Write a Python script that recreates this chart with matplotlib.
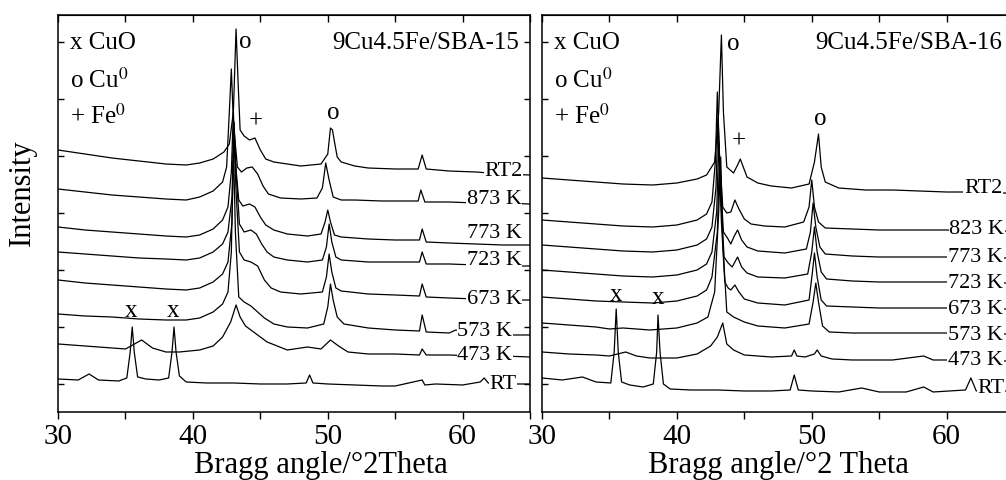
import numpy as np
import matplotlib
matplotlib.use("Agg")
from matplotlib import pyplot as plt
from matplotlib.ticker import MultipleLocator

# ---- data: 9Cu4.5Fe/SBA-15 (left panel), intensity in a.u. ----
theta_15_rt2 = [30, 32, 34, 36, 38, 39.5, 40.5, 41.5, 42.3, 42.7, 43.0, 43.2, 43.35, 43.5, 43.8, 44.2, 44.6, 45.0, 45.4, 46, 47, 48, 49.5, 50.0, 50.2, 50.35, 50.5, 50.7, 51, 52, 53, 55, 56.7, 57.0, 57.3, 59, 61, 63, 65]
int_15_rt2 = [262, 258, 254, 251, 248, 247, 249, 253, 260, 268, 300, 383, 330, 282, 276, 272, 274, 262, 253, 250, 248, 246, 248, 258, 284, 282, 270, 255, 250, 246, 244, 243, 243, 257, 243, 241, 240, 238, 237]

theta_15_873 = [30, 32, 34, 36, 38, 39.5, 40.5, 41.5, 42.2, 42.5, 42.7, 42.85, 43.0, 43.3, 43.6, 44.0, 44.4, 44.8, 45.2, 45.6, 46.5, 48, 49.2, 49.6, 49.85, 50.1, 50.4, 51, 52, 54, 56.7, 56.9, 57.2, 59, 61, 63, 65]
int_15_873 = [223, 220, 217, 215, 213, 212, 215, 221, 230, 245, 300, 343, 290, 245, 240, 244, 245, 238, 226, 218, 214, 213, 214, 224, 249, 232, 215, 212, 212, 211, 211, 222, 210, 210, 209, 209, 208]

theta_15_773 = [30, 32, 34, 36, 38, 39.5, 40.5, 41.5, 42.2, 42.6, 42.85, 43.0, 43.15, 43.4, 43.7, 44.2, 44.6, 45.0, 45.4, 46, 47, 48.5, 49.5, 49.8, 50.0, 50.2, 50.5, 51, 53, 55, 56.8, 57.0, 57.3, 59, 61, 63, 65]
int_15_773 = [185, 182, 180, 178, 176, 175, 177, 183, 192, 205, 240, 300, 250, 212, 206, 208, 205, 195, 187, 182, 178, 176, 178, 190, 202, 190, 177, 175, 173, 172, 172, 183, 170, 169, 168, 167, 167]

theta_15_723 = [30, 32, 34, 36, 38, 39.5, 40.5, 41.5, 42.2, 42.6, 42.9, 43.05, 43.2, 43.45, 43.8, 44.3, 44.7, 45.1, 45.5, 46, 47, 48.5, 49.6, 49.9, 50.1, 50.3, 50.6, 51, 53, 55, 56.8, 57.0, 57.3, 59, 61, 63, 65]
int_15_723 = [160, 158, 156, 154, 153, 152, 154, 160, 168, 180, 215, 290, 240, 188, 180, 182, 178, 168, 160, 155, 152, 150, 152, 165, 188, 170, 155, 152, 150, 150, 150, 160, 148, 148, 147, 146, 146]

theta_15_673 = [30, 32, 34, 36, 38, 39.5, 40.5, 41.5, 42.2, 42.6, 42.9, 43.05, 43.2, 43.45, 43.8, 44.3, 44.8, 45.3, 45.8, 46.5, 48, 49.6, 49.9, 50.1, 50.3, 50.6, 51, 53, 55, 56.8, 57.0, 57.3, 59, 61, 63, 65]
int_15_673 = [132, 129, 127, 125, 123, 122, 124, 130, 138, 150, 190, 280, 220, 160, 152, 150, 146, 132, 124, 120, 118, 120, 135, 158, 140, 124, 121, 118, 117, 116, 128, 115, 114, 113, 112, 112]

theta_15_573 = [30, 32, 34, 36, 38, 39.5, 40.5, 41.5, 42.2, 42.6, 42.85, 43.0, 43.15, 43.4, 43.8, 44.3, 44.8, 45.3, 46, 47, 48.5, 49.7, 50.0, 50.2, 50.4, 50.7, 51.2, 53, 55, 56.8, 57.0, 57.3, 59, 59.5, 61, 63, 65]
int_15_573 = [98, 96, 95, 93, 92, 92, 94, 100, 108, 120, 160, 270, 180, 115, 110, 106, 100, 94, 88, 85, 84, 88, 105, 128, 112, 95, 88, 84, 82, 81, 97, 80, 79, 82, 78, 77, 77]

theta_15_473 = [30, 32, 34, 35, 36.2, 37, 38, 39, 40.5, 41.5, 42.2, 42.8, 43.2, 43.5, 43.9, 44.5, 45.5, 47, 48.5, 49.5, 50.2, 50.8, 51.5, 53, 55, 56.8, 57.0, 57.3, 59, 61, 63, 65]
int_15_473 = [68, 66, 64, 63, 72, 64, 60, 60, 62, 66, 75, 90, 107, 95, 86, 80, 70, 62, 65, 63, 72, 66, 60, 58, 58, 57, 63, 57, 57, 56, 56, 55]

theta_15_rt = [30, 31.5, 32.3, 33, 34.5, 35.1, 35.35, 35.5, 35.65, 35.9, 36.5, 37.5, 38.2, 38.45, 38.6, 38.75, 39.0, 39.5, 41, 43, 45, 47, 48.4, 48.65, 48.9, 50, 52, 54, 55, 57.0, 57.2, 58, 60, 61.3, 61.6, 61.9, 62.5, 63.5, 65]
int_15_rt = [33, 32, 38, 32, 31, 34, 60, 85, 60, 35, 33, 32, 34, 60, 85, 60, 36, 30, 29, 29, 28, 28, 29, 37, 29, 28, 27, 26, 26, 32, 27, 28, 27, 30, 34, 29, 27, 28, 28]

# ---- data: 9Cu4.5Fe/SBA-16 (right panel) ----
theta_16_rt2 = [30, 32, 34, 36, 38.2, 40, 41.5, 42.2, 42.8, 43.1, 43.3, 43.45, 43.7, 44.2, 44.5, 44.7, 44.95, 45.2, 46, 47, 48.5, 49.8, 50.2, 50.5, 50.7, 51, 52, 54, 56, 58, 60, 61.3, 63, 65]
int_16_rt2 = [234, 232, 230, 228, 227, 229, 233, 237, 250, 300, 377, 300, 245, 239, 247, 253, 244, 235, 229, 226, 224, 228, 250, 278, 245, 230, 224, 222, 222, 221, 220, 220, 219, 219]

theta_16_823 = [30, 32, 34, 36, 38.2, 40, 41.5, 42.2, 42.6, 42.85, 43.0, 43.15, 43.4, 43.7, 44.0, 44.3, 44.6, 45.0, 45.5, 46.5, 48, 49.4, 49.8, 50.0, 50.2, 50.5, 51, 53, 55, 58, 60, 62, 65]
int_16_823 = [192, 190, 188, 186, 185, 187, 192, 198, 210, 250, 320, 260, 205, 199, 200, 212, 203, 193, 188, 186, 185, 190, 205, 232, 205, 190, 184, 183, 182, 182, 182, 181, 181]

theta_16_773 = [30, 32, 34, 36, 38.2, 40, 41.5, 42.2, 42.6, 42.9, 43.05, 43.2, 43.45, 43.75, 44.0, 44.25, 44.5, 44.8, 45.2, 46, 48, 49.6, 49.9, 50.1, 50.3, 50.6, 51, 53, 55, 58, 60, 62, 65]
int_16_773 = [167, 165, 163, 161, 160, 162, 167, 173, 185, 225, 294, 240, 180, 174, 168, 176, 182, 172, 165, 161, 159, 163, 180, 209, 185, 165, 158, 156, 155, 155, 155, 154, 154]

theta_16_723 = [30, 32, 34, 36, 38.2, 40, 41.5, 42.2, 42.6, 42.95, 43.1, 43.25, 43.5, 43.8, 44.1, 44.5, 44.8, 45.2, 46, 48, 49.7, 50.0, 50.2, 50.4, 50.7, 51.1, 53, 55, 58, 60, 62, 65]
int_16_723 = [142, 140, 138, 136, 135, 137, 142, 148, 160, 200, 270, 215, 155, 149, 145, 155, 145, 139, 135, 134, 138, 160, 185, 160, 140, 133, 131, 130, 130, 130, 129, 129]

theta_16_673 = [30, 32, 34, 36, 38.2, 40, 41.5, 42.2, 42.6, 43.0, 43.15, 43.3, 43.55, 43.8, 44.0, 44.3, 44.6, 45.0, 46, 48, 49.8, 50.05, 50.2, 50.4, 50.7, 51.1, 53, 55, 58, 60, 62, 65]
int_16_673 = [115, 113, 111, 110, 109, 111, 116, 122, 135, 180, 250, 190, 130, 124, 122, 127, 120, 113, 109, 107, 112, 140, 159, 135, 112, 106, 105, 104, 104, 104, 103, 103]

theta_16_573 = [30, 32, 34, 35, 36, 38, 40, 41.5, 42.3, 42.8, 43.1, 43.25, 43.4, 43.7, 44.2, 45, 46, 48, 49.8, 50.1, 50.3, 50.5, 50.8, 51.3, 53, 55, 58, 60, 62, 65]
int_16_573 = [89, 87, 85, 83, 84, 82, 84, 89, 95, 120, 200, 255, 170, 100, 95, 90, 86, 84, 88, 110, 129, 110, 86, 80, 79, 79, 79, 79, 78, 78]

theta_16_473 = [30, 32, 34, 35, 36.2, 37, 38, 40, 41.5, 42.5, 43.0, 43.4, 43.7, 44.2, 45, 47, 48.5, 48.7, 48.9, 49.5, 50.2, 50.4, 50.7, 51.5, 53, 56, 58.3, 59, 61, 63, 65]
int_16_473 = [60, 58, 57, 56, 60, 56, 54, 54, 58, 66, 75, 89, 68, 62, 57, 55, 56, 62, 56, 55, 58, 62, 56, 53, 52, 52, 56, 52, 52, 51, 51]

theta_16_rt = [30, 31.5, 33, 34, 35.1, 35.35, 35.5, 35.65, 35.9, 36.5, 37.5, 38.25, 38.5, 38.6, 38.75, 39.0, 39.5, 41, 43, 45, 47, 48.4, 48.7, 49.0, 50, 52, 53.7, 55, 57, 58.3, 59, 61.4, 61.8, 62.2, 63, 65]
int_16_rt = [34, 32, 35, 30, 29, 60, 103, 60, 30, 27, 25, 28, 60, 97, 60, 28, 23, 22, 22, 21, 21, 22, 37, 22, 21, 20, 24, 20, 20, 25, 20, 22, 34, 21, 21, 21]

labels_15 = ["RT2", "873 K", "773 K", "723 K", "673 K", "573 K", "473 K", "RT"]
label_pos_15 = [(61.6, 242), (60.3, 214), (60.3, 180), (60.3, 152), (60.3, 113), (59.6, 81), (59.6, 57), (62.0, 28)]
labels_16 = ["RT2", "823 K", "773 K", "723 K", "673 K", "573 K", "473 K", "RT"]
label_pos_16 = [(61.3, 225), (60.2, 184), (60.1, 155), (60.1, 129), (60.1, 103), (60.1, 77), (60.1, 52), (62.3, 24)]

plt.rcParams["font.family"] = ["Liberation Serif", "DejaVu Serif"]
plt.rcParams["mathtext.fontset"] = "stix"

fig = plt.figure(figsize=(10.06, 4.81), dpi=100)
ax1 = fig.add_axes([0.0577, 0.1414, 0.4692, 0.8253])
ax2 = fig.add_axes([0.5388, 0.1414, 0.4692, 0.8253])

traces_15 = [(theta_15_rt2, int_15_rt2), (theta_15_873, int_15_873), (theta_15_773, int_15_773),
             (theta_15_723, int_15_723), (theta_15_673, int_15_673), (theta_15_573, int_15_573),
             (theta_15_473, int_15_473), (theta_15_rt, int_15_rt)]
traces_16 = [(theta_16_rt2, int_16_rt2), (theta_16_823, int_16_823), (theta_16_773, int_16_773),
             (theta_16_723, int_16_723), (theta_16_673, int_16_673), (theta_16_573, int_16_573),
             (theta_16_473, int_16_473), (theta_16_rt, int_16_rt)]

for ax, traces, labels, lpos in [(ax1, traces_15, labels_15, label_pos_15),
                                 (ax2, traces_16, labels_16, label_pos_16)]:
    for (x, y) in traces:
        ax.plot(x, y, color="black", lw=0.9)
    for lab, (lx, ly) in zip(labels, lpos):
        ax.text(lx, ly, lab, fontsize=16, ha="left", va="center", zorder=5,
                bbox=dict(facecolor="white", edgecolor="none", pad=0.5))
    ax.set_xlim(30, 65)
    ax.set_ylim(0, 397)
    ax.xaxis.set_major_locator(MultipleLocator(10))
    ax.xaxis.set_minor_locator(MultipleLocator(5))
    ax.set_yticks(np.arange(28, 397, 57))
    ax.set_yticklabels([])
    ax.tick_params(axis="x", which="both", direction="out", length=5, width=1,
                   labelsize=21, pad=3)
    ax.tick_params(axis="y", which="both", direction="in", length=4, width=1,
                   left=True, right=True)
    for s in ax.spines.values():
        s.set_linewidth(1.1)
    # ticks pointing in along the top edge
    sec = ax.secondary_xaxis("top")
    sec.xaxis.set_major_locator(MultipleLocator(5))
    sec.tick_params(direction="in", length=5, width=1, labeltop=False)
    # phase legend
    ax.text(30.9, 370, "x CuO", fontsize=18, va="center")
    ax.text(30.9, 333, "o Cu$^{0}$", fontsize=18, va="center")
    ax.text(30.9, 297, "+ Fe$^{0}$", fontsize=18, va="center")

ax1.text(64.2, 370, "9Cu4.5Fe/SBA-15", fontsize=18, ha="right", va="center")
ax2.text(64.1, 370, "9Cu4.5Fe/SBA-16", fontsize=18, ha="right", va="center")

# peak markers
ax1.text(43.9, 371, "o", fontsize=18, ha="center", va="center")
ax1.text(44.7, 291, "+", fontsize=18, ha="center", va="center")
ax1.text(50.4, 300, "o", fontsize=18, ha="center", va="center")
ax1.text(35.4, 102, "x", fontsize=18, ha="center", va="center")
ax1.text(38.5, 102, "x", fontsize=18, ha="center", va="center")
ax2.text(44.2, 369, "o", fontsize=18, ha="center", va="center")
ax2.text(44.6, 271, "+", fontsize=18, ha="center", va="center")
ax2.text(50.6, 294, "o", fontsize=18, ha="center", va="center")
ax2.text(35.5, 118, "x", fontsize=18, ha="center", va="center")
ax2.text(38.6, 115, "x", fontsize=18, ha="center", va="center")

ax1.set_xlabel("Bragg angle/°2Theta", fontsize=22)
ax1.xaxis.set_label_coords(0.557, -0.095)
ax2.set_xlabel("Bragg angle/°2 Theta", fontsize=22)
ax2.xaxis.set_label_coords(0.5, -0.095)
ax1.text(-0.076, 0.554, "Intensity", fontsize=22, rotation=90, ha="center", va="center",
         transform=ax1.transAxes)

fig.savefig("out.png", dpi=100)
